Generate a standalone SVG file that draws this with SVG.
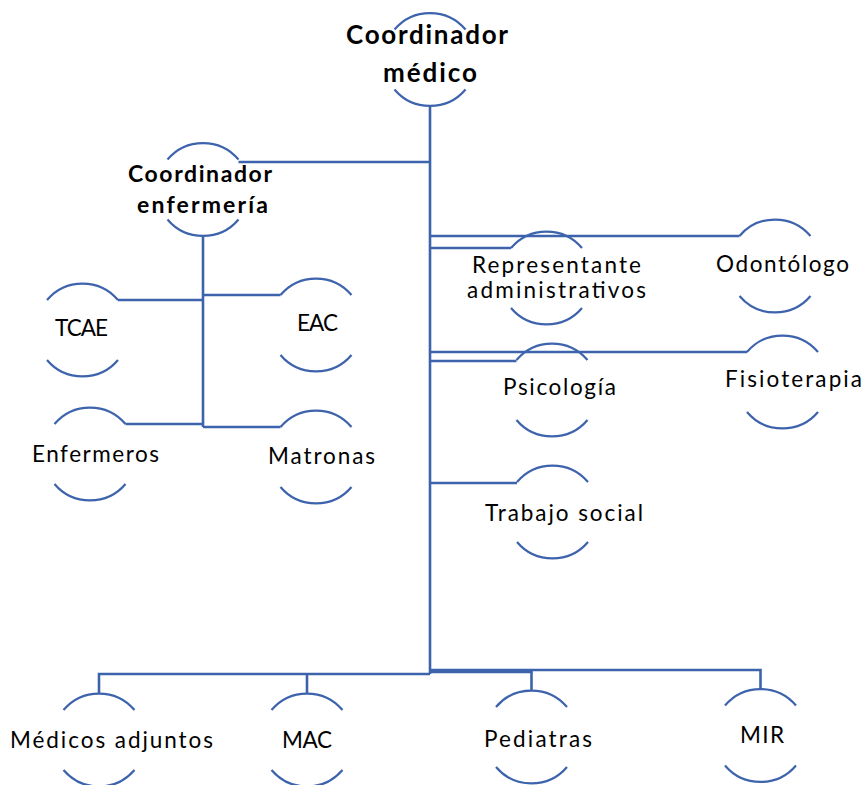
<svg xmlns="http://www.w3.org/2000/svg" width="865" height="785" viewBox="0 0 865 785">
  <style>
    .arc { fill: none; stroke: #3d63ad; stroke-width: 2.2; }
    .link { fill: none; stroke: #3d63ad; stroke-width: 2.6; }
    .hd { font-family: Lato, "Liberation Sans", sans-serif; font-weight: bold; font-size: 23px; fill: #000; }
    .hd-top { font-size: 26px; }
    .lbl { font-family: Lato, "Liberation Sans", sans-serif; font-size: 22.5px; fill: #000; }
  </style>
  <rect width="865" height="785" fill="#ffffff"/>

  <!-- connectors -->
  <g id="connectors">
    <path class="link" d="M430,106 V674" stroke-width="3"/>
    <path class="link" d="M238.5,162 H430"/>
    <path class="link" d="M203,236 V427"/>
    <path class="link" d="M118,300 H203"/>
    <path class="link" d="M203,295 H280.5"/>
    <path class="link" d="M125.5,424 H203"/>
    <path class="link" d="M203,427 H280.5"/>
    <path class="link" d="M430,248 H511"/>
    <path class="link" d="M430,236 H739.5"/>
    <path class="link" d="M430,361 H516.5"/>
    <path class="link" d="M430,352 H747"/>
    <path class="link" d="M430,483 H517"/>
    <path class="link" d="M430,674 H99 V693.5"/>
    <path class="link" d="M307,674 V693.5"/>
    <path class="link" d="M430,672 H531.5 V690.5"/>
    <path class="link" d="M430,670 H760.5 V689"/>
  </g>

  <!-- nodes: each is a circle outline showing only its top and bottom arcs -->
  <g id="coordinador-medico">
    <path class="arc" d="M394.5,29.5 A46.5,46.5 0 0 1 465.5,29.5 M394.5,89.5 A46.5,46.5 0 0 0 465.5,89.5"/>
    <text class="hd hd-top" x="346" y="44" textLength="162" lengthAdjust="spacing">Coordinador</text>
    <text class="hd hd-top" x="383" y="82" textLength="94" lengthAdjust="spacing">médico</text>
  </g>

  <g id="coordinador-enfermeria">
    <path class="arc" d="M167.5,159.5 A46.5,46.5 0 0 1 238.5,159.5 M167.5,219.5 A46.5,46.5 0 0 0 238.5,219.5"/>
    <text class="hd" x="128" y="182" textLength="144" lengthAdjust="spacing">Coordinador</text>
    <text class="hd" x="137" y="213" textLength="131" lengthAdjust="spacing">enfermería</text>
  </g>

  <g id="tcae">
    <path class="arc" d="M47,300 A46.5,46.5 0 0 1 118,300 M47,360 A46.5,46.5 0 0 0 118,360"/>
    <text class="lbl" x="55" y="336" textLength="53" lengthAdjust="spacing">TCAE</text>
  </g>

  <g id="eac">
    <path class="arc" d="M280.5,295 A46.5,46.5 0 0 1 351.5,295 M280.5,355 A46.5,46.5 0 0 0 351.5,355"/>
    <text class="lbl" x="297" y="331" textLength="41" lengthAdjust="spacing">EAC</text>
  </g>

  <g id="enfermeros">
    <path class="arc" d="M54.5,424 A46.5,46.5 0 0 1 125.5,424 M54.5,484 A46.5,46.5 0 0 0 125.5,484"/>
    <text class="lbl" x="32" y="462" textLength="127" lengthAdjust="spacing">Enfermeros</text>
  </g>

  <g id="matronas">
    <path class="arc" d="M280.5,427 A46.5,46.5 0 0 1 351.5,427 M280.5,487 A46.5,46.5 0 0 0 351.5,487"/>
    <text class="lbl" x="268" y="464" textLength="107" lengthAdjust="spacing">Matronas</text>
  </g>

  <g id="representante-administrativos">
    <path class="arc" d="M511,248 A46.5,46.5 0 0 1 582,248 M511,308 A46.5,46.5 0 0 0 582,308"/>
    <text class="lbl" x="472" y="273" textLength="169" lengthAdjust="spacing">Representante</text>
    <text class="lbl" x="467" y="298" textLength="179" lengthAdjust="spacing">administrativos</text>
  </g>

  <g id="odontologo">
    <path class="arc" d="M739.5,236 A46.5,46.5 0 0 1 810.5,236 M739.5,296 A46.5,46.5 0 0 0 810.5,296"/>
    <text class="lbl" x="716" y="272" textLength="133" lengthAdjust="spacing">Odontólogo</text>
  </g>

  <g id="psicologia">
    <path class="arc" d="M516.5,360 A46.5,46.5 0 0 1 587.5,360 M516.5,420 A46.5,46.5 0 0 0 587.5,420"/>
    <text class="lbl" x="503" y="395" textLength="113" lengthAdjust="spacing">Psicología</text>
  </g>

  <g id="fisioterapia">
    <path class="arc" d="M747,352 A46.5,46.5 0 0 1 818,352 M747,412 A46.5,46.5 0 0 0 818,412"/>
    <text class="lbl" x="725" y="387" textLength="137" lengthAdjust="spacing">Fisioterapia</text>
  </g>

  <g id="trabajo-social">
    <path class="arc" d="M517,482 A46.5,46.5 0 0 1 588,482 M517,542 A46.5,46.5 0 0 0 588,542"/>
    <text class="lbl" x="485" y="521" textLength="158" lengthAdjust="spacing">Trabajo social</text>
  </g>

  <g id="medicos-adjuntos">
    <path class="arc" d="M63.5,710 A46.5,46.5 0 0 1 134.5,710 M63.5,770 A46.5,46.5 0 0 0 134.5,770"/>
    <text class="lbl" x="10" y="748" textLength="203" lengthAdjust="spacing">Médicos adjuntos</text>
  </g>

  <g id="mac">
    <path class="arc" d="M271.5,710 A46.5,46.5 0 0 1 342.5,710 M271.5,770 A46.5,46.5 0 0 0 342.5,770"/>
    <text class="lbl" x="282" y="748" textLength="50" lengthAdjust="spacing">MAC</text>
  </g>

  <g id="pediatras">
    <path class="arc" d="M496,707 A46.5,46.5 0 0 1 567,707 M496,767 A46.5,46.5 0 0 0 567,767"/>
    <text class="lbl" x="484" y="747" textLength="108" lengthAdjust="spacing">Pediatras</text>
  </g>

  <g id="mir">
    <path class="arc" d="M725,705.5 A46.5,46.5 0 0 1 796,705.5 M725,765.5 A46.5,46.5 0 0 0 796,765.5"/>
    <text class="lbl" x="740" y="743" textLength="44" lengthAdjust="spacing">MIR</text>
  </g>
</svg>
